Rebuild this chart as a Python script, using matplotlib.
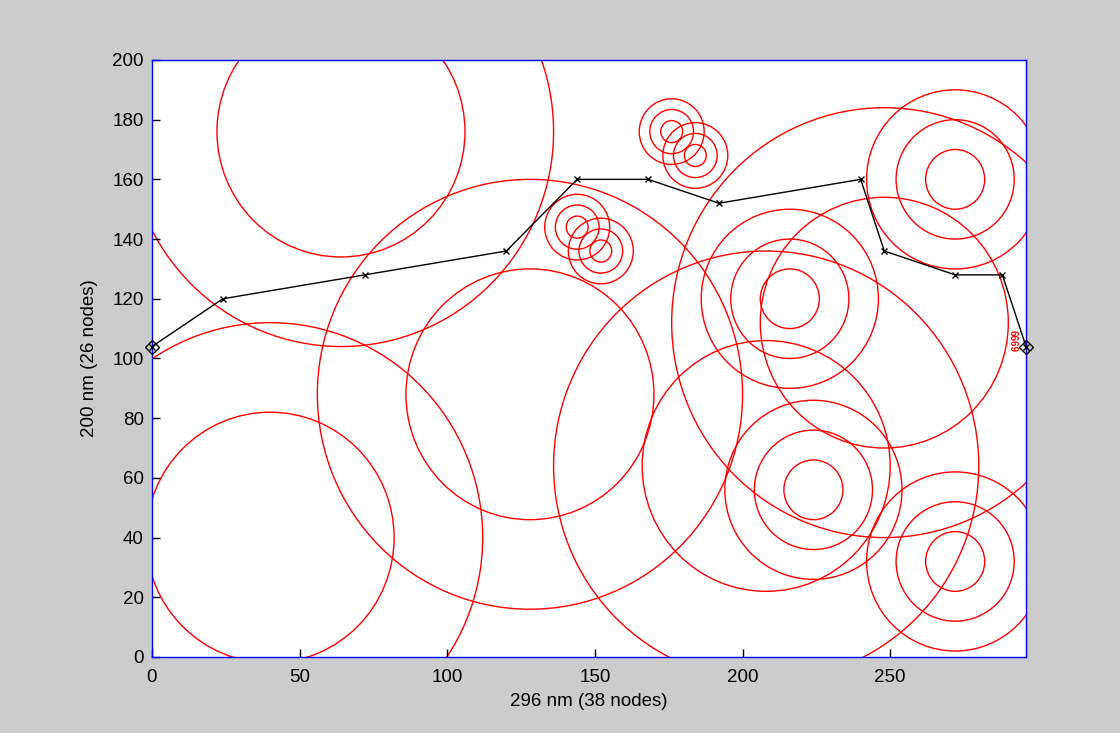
import numpy as np
import matplotlib
matplotlib.use("Agg")
import matplotlib.pyplot as plt
from matplotlib.patches import Circle

plt.rcParams['font.family'] = ['Liberation Sans', 'DejaVu Sans']

# obstacles: centres (nm) and the radii of the rings drawn round them
big_x = [64, 128, 40, 208, 248]
big_y = [176, 88, 40, 64, 112]
big_rings = [42, 72]

mid_x = [216, 224, 272, 272]
mid_y = [120, 56, 160, 32]
mid_rings = [10, 20, 30]

small_x = [176, 184, 144, 152]
small_y = [176, 168, 144, 136]
small_rings = [3.7, 7.4, 11]

# route found across the grid
path_x = [0, 24, 72, 120, 144, 168, 192, 240, 248, 272, 288, 296]
path_y = [104, 120, 128, 136, 160, 160, 152, 160, 136, 128, 128, 104]

cost_label = "6669"

fig = plt.figure(figsize=(11.2, 7.33), dpi=100, facecolor='#cccccc')
ax = fig.add_axes([0.1357, 0.1037, 0.7804, 0.8145])

for xs, ys, rings in [(big_x, big_y, big_rings),
                      (mid_x, mid_y, mid_rings),
                      (small_x, small_y, small_rings)]:
    for cx, cy in zip(xs, ys):
        for r in rings:
            ax.add_patch(Circle((cx, cy), r, fill=False, edgecolor='red', lw=1.0))

ax.plot(path_x, path_y, color='black', lw=1.0, marker='x', markersize=5,
        markeredgewidth=1.0, clip_on=False, zorder=4)
# start and goal nodes
ax.plot([path_x[0], path_x[-1]], [path_y[0], path_y[-1]], linestyle='none',
        marker='D', markersize=7, markerfacecolor='none', markeredgecolor='black',
        markeredgewidth=1.0, clip_on=False, zorder=5)

ax.text(291.5, 106, cost_label, color='red', fontsize=7, rotation=270,
        ha='center', va='center', fontweight='bold')

ax.set_xlim(0, 296)
ax.set_ylim(0, 200)
ax.set_xticks([0, 50, 100, 150, 200, 250])
ax.set_yticks(np.arange(0, 201, 20))
ax.tick_params(direction='in', length=6, width=1, labelsize=13.5)
ax.tick_params(axis='x', pad=9)
ax.tick_params(axis='y', pad=6)
for sp in ax.spines.values():
    sp.set_color('blue')
    sp.set_linewidth(1.0)
ax.set_xlabel('296 nm (38 nodes)', fontsize=13.5, labelpad=5)
ax.set_ylabel('200 nm (26 nodes)', fontsize=13.5, labelpad=10)

fig.savefig('out.png', dpi=100, facecolor=fig.get_facecolor())
